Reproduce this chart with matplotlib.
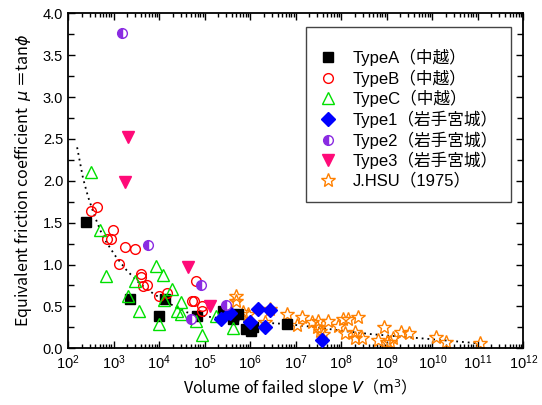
import numpy as np
import matplotlib
matplotlib.use("Agg")
import matplotlib.pyplot as plt
from matplotlib.ticker import LogLocator, MultipleLocator, NullFormatter, LogFormatterMathtext

plt.rcParams["font.family"] = ["Liberation Sans", "Noto Sans CJK JP", "DejaVu Sans"]

# ---- data: log10(V) and mu -------------------------------------------------
a_logv = [2.40, 3.36, 4.00, 4.14, 4.83, 5.41, 5.63, 5.74, 5.91, 6.02, 6.06, 6.81]
a_mu   = [1.51, 0.59, 0.39, 0.59, 0.39, 0.45, 0.35, 0.41, 0.23, 0.21, 0.25, 0.29]

b_logv = [2.50, 2.64, 2.98, 2.85, 2.94, 3.25, 3.47, 3.13, 3.60, 3.60, 3.64, 3.74,
          4.00, 4.17, 4.72, 4.77, 4.81, 4.94, 4.94]
b_mu   = [1.64, 1.69, 1.41, 1.30, 1.30, 1.21, 1.18, 1.01, 0.89, 0.85, 0.74, 0.76,
          0.63, 0.66, 0.56, 0.57, 0.80, 0.50, 0.45]

c_logv = [2.50, 2.70, 2.83, 3.48, 3.31, 3.55, 3.93, 4.09, 4.29, 4.11, 4.00, 4.48,
          4.40, 4.48, 4.81, 4.94, 5.25, 5.62]
c_mu   = [2.11, 1.41, 0.86, 0.80, 0.63, 0.45, 0.98, 0.87, 0.71, 0.58, 0.29, 0.55,
          0.44, 0.41, 0.33, 0.16, 0.39, 0.24]

t1_logv = [5.36, 5.55, 6.00, 6.17, 6.44, 6.33, 7.58]
t1_mu   = [0.35, 0.42, 0.31, 0.47, 0.46, 0.25, 0.10]

t2_logv = [3.18, 3.76, 4.93, 4.70, 5.46]
t2_mu   = [3.76, 1.23, 0.75, 0.35, 0.52]

t3_logv = [3.31, 3.26, 4.64, 5.12]
t3_mu   = [2.52, 1.99, 0.97, 0.50]

hsu_logv = [5.69, 5.69, 5.85, 5.96, 6.33, 6.44, 6.82, 7.03, 7.14, 7.36, 7.50, 7.72,
            7.47, 7.54, 7.61, 7.94, 8.05, 8.16, 8.38, 8.09, 8.31, 8.31, 8.45, 8.80,
            8.93, 9.00, 9.08, 9.14, 9.31, 9.49, 10.09, 10.31, 11.05]
hsu_mu   = [0.63, 0.57, 0.43, 0.41, 0.31, 0.47, 0.41, 0.28, 0.37, 0.31, 0.33, 0.33,
            0.25, 0.21, 0.17, 0.27, 0.35, 0.35, 0.37, 0.18, 0.20, 0.12, 0.12, 0.10,
            0.25, 0.08, 0.08, 0.12, 0.20, 0.18, 0.14, 0.08, 0.06]

curve_logv = [2.20, 2.33, 2.44, 2.59, 2.77, 3.03, 3.29, 3.58, 3.88, 4.24, 4.61,
              5.05, 5.60, 6.15, 6.81, 7.47, 8.00, 8.64, 9.74, 11.00]
curve_mu   = [2.40, 2.03, 1.81, 1.57, 1.33, 1.11, 0.93, 0.77, 0.65, 0.53, 0.43,
              0.38, 0.34, 0.31, 0.29, 0.25, 0.21, 0.17, 0.12, 0.06]

labels = ["TypeA（中越）", "TypeB（中越）", "TypeC（中越）",
          "Type1（岩手宮城）", "Type2（岩手宮城）", "Type3（岩手宮城）", "J.HSU（1975）"]


def v(logv):
    return 10.0 ** np.array(logv)


fig = plt.figure(figsize=(5.42, 4.05), dpi=100)
ax = fig.add_axes([0.1255, 0.14, 0.84, 0.827])

ax.plot(v(curve_logv), curve_mu, color="black", ls=(0, (1, 2.2)), lw=1.3, zorder=1)

ms = 7
ax.plot(v(a_logv), a_mu, "s", ls="none", color="black", ms=6.5, label=labels[0], zorder=3)
ax.plot(v(b_logv), b_mu, "o", ls="none", mfc="none", mec="#ff0000", mew=1.0, ms=ms,
        label=labels[1], zorder=3)
ax.plot(v(c_logv), c_mu, "^", ls="none", mfc="none", mec="#00e000", mew=1.0, ms=ms + 1,
        label=labels[2], zorder=3)
ax.plot(v(t1_logv), t1_mu, "D", ls="none", color="#0000ff", ms=ms, label=labels[3], zorder=3)
ax.plot(v(t2_logv), t2_mu, "o", ls="none", fillstyle="left", mfc="#8a2be2",
        mfcalt="white", mec="#8a2be2", mew=1.0, ms=ms, label=labels[4], zorder=3)
ax.plot(v(t3_logv), t3_mu, "v", ls="none", color="#ff0a78", ms=ms + 1, label=labels[5], zorder=3)
ax.plot(v(hsu_logv), hsu_mu, "*", ls="none", mfc="none", mec="#ff8000", mew=1.0, ms=ms + 3,
        label=labels[6], zorder=2)

ax.set_xscale("log")
ax.set_xlim(1e2, 1e12)
ax.set_ylim(0, 4.0)
ax.xaxis.set_major_locator(LogLocator(base=10, numticks=20))
ax.xaxis.set_major_formatter(LogFormatterMathtext())
ax.xaxis.set_minor_locator(LogLocator(base=10, subs=np.arange(2, 10), numticks=200))
ax.xaxis.set_minor_formatter(NullFormatter())
ax.yaxis.set_major_locator(MultipleLocator(0.5))
ax.yaxis.set_minor_locator(MultipleLocator(0.25))
ax.yaxis.set_major_formatter(plt.FuncFormatter(lambda y, _: f"{y:.1f}"))

ax.tick_params(which="both", direction="in", top=True, right=True, labelsize=10.5, width=1.0)
ax.tick_params(which="major", length=5)
ax.tick_params(which="minor", length=3)
ax.tick_params(axis="y", which="minor", length=4)
for sp in ax.spines.values():
    sp.set_linewidth(1.3)

ax.set_xlabel("Volume of failed slope $V$（m$^3$）", fontsize=11.5, labelpad=4,
              fontfamily="Noto Sans CJK JP")
ax.set_ylabel("Equivalent friction coefficient  $\\mu$ ＝tan$\\phi$", fontsize=11.5,
              labelpad=6, fontfamily="Noto Sans CJK JP")

leg = ax.legend(loc="upper right", bbox_to_anchor=(0.9736, 0.959), fontsize=12,
                frameon=True, fancybox=False, edgecolor="#444444", framealpha=1,
                borderpad=0.8, labelspacing=0.2, handletextpad=1.0, handlelength=1.0,
                borderaxespad=0, title=" ", title_fontsize=4)
leg.get_frame().set_linewidth(1.0)

fig.savefig("out.png", dpi=100)
